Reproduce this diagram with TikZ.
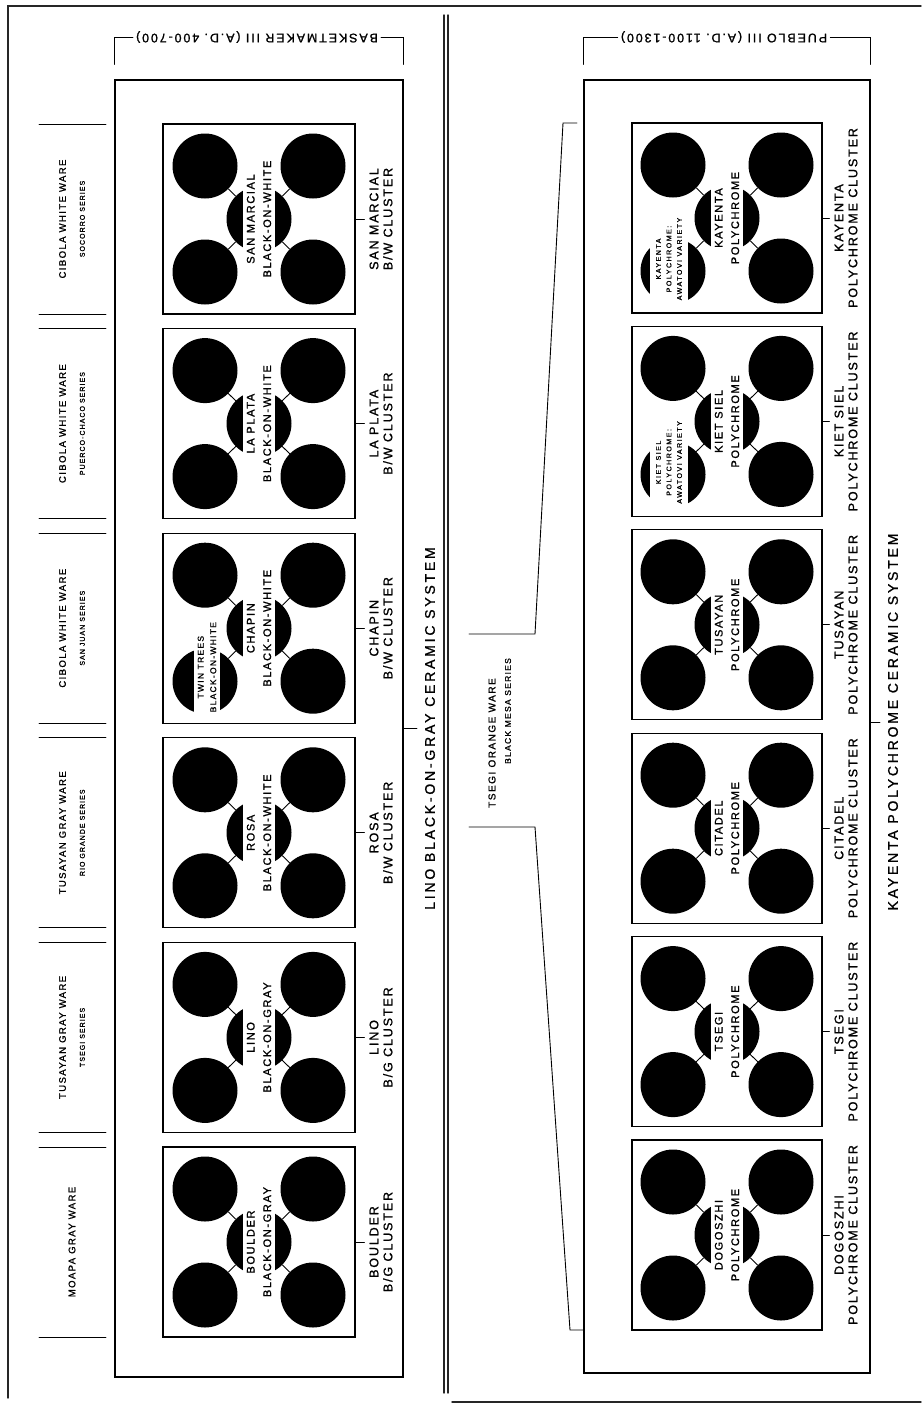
\documentclass[tikz,border=0pt]{standalone}
\usepackage{fontspec}
\setmainfont{Liberation Sans}
\newfontfamily\lettering[LetterSpace=15,FakeBold=1.2]{Liberation Sans}
\usetikzlibrary{positioning,calc}

\begin{document}
\begin{tikzpicture}[x=1pt,y=-1pt,line cap=round,
  frame/.style={line width=1.4pt,black!85},
  sysbox/.style={draw,line width=1.1pt,inner sep=0pt},
  typebox/.style={draw,line width=1.1pt,inner sep=0pt,minimum height=190pt},
  disc/.style={circle,fill=black,inner sep=0pt,minimum size=65pt},
  band/.style={rotate=90,fill=white,inner sep=0pt,align=center,minimum width=70pt,minimum height=32pt,font=\lettering\fontsize{11}{16.5}\selectfont},
  vband/.style={band,minimum width=100pt,minimum height=26pt,font=\lettering\fontsize{8.5}{12.5}\selectfont},
  kband/.style={band,minimum width=100pt,minimum height=38pt,font=\lettering\fontsize{7}{10.5}\selectfont\addfontfeature{LetterSpace=22}},
  clu/.style={rotate=90,align=center,inner sep=5pt,font=\lettering\fontsize{12.5}{14}\selectfont},
  sys/.style={rotate=90,inner sep=8pt,font=\lettering\fontsize{14}{16}\selectfont\addfontfeature{LetterSpace=20}},
  period/.style={rotate=180,inner sep=3pt,font=\lettering\fontsize{12.5}{14}\selectfont},
  ware/.style={rotate=90,align=center,inner sep=0pt,font=\lettering\fontsize{9.5}{19}\selectfont},
  link/.style={line width=0.9pt},
  rule/.style={line width=0.9pt}]
\useasboundingbox (0,0) rectangle (921,1405);

% page frame
\draw[frame] (8,1398) -- (8,6) -- (921,6);
\draw[frame] (444,15) -- (444,1393);
\draw[frame] (448,15) -- (448,1393);
\draw[frame] (452,1402) -- (921,1402);

% Lino black-on-gray system
\node[sysbox,minimum width=288pt,minimum height=1297pt] (Lsys) at (259,728.5) {};
\node[period] (Lper) at (257,37) {BASKETMAKER III (A.D. 400-700)};
\draw[rule,shorten >=15pt] (Lper) -| (Lsys.north west);
\draw[rule,shorten >=15pt] (Lper) -| (Lsys.north east);
\node[sys] (Lsyslab) at (430,728.5) {LINO BLACK-ON-GRAY CERAMIC SYSTEM};
\draw[link] (Lsys) -- (Lsyslab);

\foreach \i/\mtxt/\ctxt/\wtxt in {
  0/{SAN MARCIAL\\BLACK-ON-WHITE}/{SAN MARCIAL\\B/W CLUSTER}/{CIBOLA WHITE WARE\\{\fontsize{7}{19}\selectfont SOCORRO SERIES}},
  1/{LA PLATA\\BLACK-ON-WHITE}/{LA PLATA\\B/W CLUSTER}/{CIBOLA WHITE WARE\\{\fontsize{7}{19}\selectfont PUERCO-CHACO SERIES}},
  2/{CHAPIN\\BLACK-ON-WHITE}/{CHAPIN\\B/W CLUSTER}/{CIBOLA WHITE WARE\\{\fontsize{7}{19}\selectfont SAN JUAN SERIES}},
  3/{ROSA\\BLACK-ON-WHITE}/{ROSA\\B/W CLUSTER}/{TUSAYAN GRAY WARE\\{\fontsize{7}{19}\selectfont RIO GRANDE SERIES}},
  4/{LINO\\BLACK-ON-GRAY}/{LINO\\B/G CLUSTER}/{TUSAYAN GRAY WARE\\{\fontsize{7}{19}\selectfont TSEGI SERIES}},
  5/{BOULDER\\BLACK-ON-GRAY}/{BOULDER\\B/G CLUSTER}/{MOAPA GRAY WARE}}{
  \pgfmathsetmacro\cy{219+204.6*\i}
  \node[typebox,minimum width=192pt] (L\i) at (259,\cy) {};
  \node[disc] (L\i a) at (205,\cy-53) {};
  \node[disc] (L\i b) at (313,\cy-53) {};
  \node[disc] (L\i c) at (205,\cy+53) {};
  \node[disc] (L\i d) at (313,\cy+53) {};
  \node[disc] (L\i m) at (259,\cy) {};
  \node[band] at (L\i m) {\mtxt};
  \foreach \k in {a,b,c,d} \draw[link] (L\i\k) -- (L\i m);
  \node[clu] (L\i l) at (381,\cy) {\ctxt};
  \draw[link] (L\i) -- (L\i l);
  \node[ware] (L\i w) at (72,\cy) {\wtxt};
  \draw[rule] (39,\cy-95) -- (106,\cy-95);
  \draw[rule] (39,\cy+95) -- (106,\cy+95);
}
\node[vband] at ($(L2c)+(2,-14)$) {TWIN TREES\\BLACK-ON-WHITE};

% Kayenta polychrome system
\node[sysbox,minimum width=286pt,minimum height=1293pt] (Rsys) at (727,726.5) {};
\node[period] (Rper) at (724,37) {PUEBLO III (A.D. 1100-1300)};
\draw[rule,shorten >=15pt] (Rper) -| (Rsys.north west);
\draw[rule,shorten >=15pt] (Rper) -| (Rsys.north east);
\node[sys] (Rsyslab) at (893,722) {KAYENTA POLYCHROME CERAMIC SYSTEM};
\draw[link] (Rsys.east |- Rsyslab) -- (Rsyslab);

\foreach \i/\mtxt/\ctxt in {
  0/{KAYENTA\\POLYCHROME}/{KAYENTA\\POLYCHROME CLUSTER},
  1/{KIET SIEL\\POLYCHROME}/{KIET SIEL\\POLYCHROME CLUSTER},
  2/{TUSAYAN\\POLYCHROME}/{TUSAYAN\\POLYCHROME CLUSTER},
  3/{CITADEL\\POLYCHROME}/{CITADEL\\POLYCHROME CLUSTER},
  4/{TSEGI\\POLYCHROME}/{TSEGI\\POLYCHROME CLUSTER},
  5/{DOGOSZHI\\POLYCHROME}/{DOGOSZHI\\POLYCHROME CLUSTER}}{
  \pgfmathsetmacro\cy{218+203.4*\i}
  \node[typebox,minimum width=190pt] (R\i) at (727,\cy) {};
  \node[disc] (R\i a) at (673,\cy-53) {};
  \node[disc] (R\i b) at (781,\cy-53) {};
  \node[disc] (R\i c) at (673,\cy+53) {};
  \node[disc] (R\i d) at (781,\cy+53) {};
  \node[disc] (R\i m) at (727,\cy) {};
  \node[band] at (R\i m) {\mtxt};
  \foreach \k in {a,b,c,d} \draw[link] (R\i\k) -- (R\i m);
  \node[clu] (R\i l) at (846,\cy) {\ctxt};
  \draw[link] (R\i) -- (R\i l);
}
\node[kband] at ($(R0c)+(-4,-12)$) {KAYENTA\\POLYCHROME:\\AWATOVI VARIETY};
\node[kband] at ($(R1c)+(-4,-12)$) {KIET SIEL\\POLYCHROME:\\AWATOVI VARIETY};

% Tsegi orange ware bracket
\node[ware,font=\lettering\fontsize{10}{16}\selectfont] (tow) at (492,743) {TSEGI ORANGE WARE};
\node[ware,font=\lettering\fontsize{8.5}{16}\selectfont] (tows) at (508,711) {BLACK MESA SERIES};
\draw[rule] (469,634) -- (535,634) -- (563,123) -- (577,123);
\draw[rule] (469,827) -- (535,827) -- (570,1330) -- (583,1330);
\end{tikzpicture}
\end{document}
